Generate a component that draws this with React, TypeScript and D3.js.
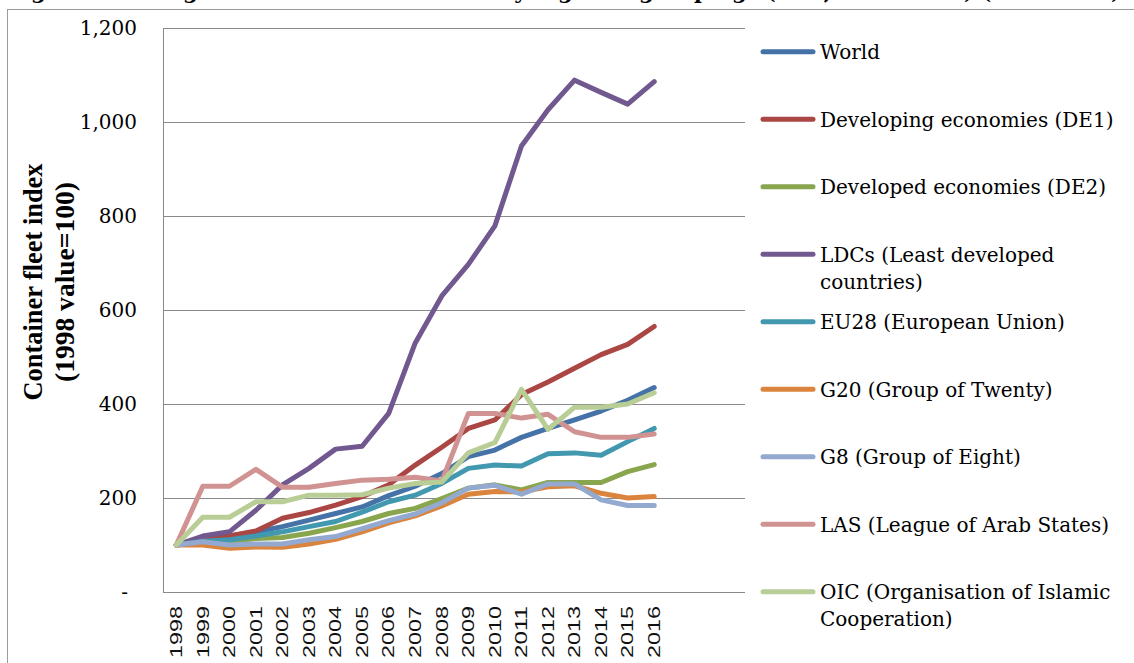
import React, { useEffect, useRef } from 'react';
import * as d3 from 'd3';

// values (index, 1998 = 100)
const years = ['1998', '1999', '2000', '2001', '2002', '2003', '2004', '2005', '2006', '2007',
  '2008', '2009', '2010', '2011', '2012', '2013', '2014', '2015', '2016'];
const world = [100, 111, 119, 128, 139, 153, 167, 181, 205, 225, 252, 288, 302, 329, 348, 366, 385, 408, 435];
const developing = [100, 112, 119, 130, 157, 169, 185, 203, 228, 270, 308, 348, 366, 420, 447, 476, 505, 527, 565];
const developed = [100, 107, 107, 114, 116, 125, 137, 150, 167, 178, 199, 221, 228, 217, 233, 233, 233, 256, 271];
const ldcs = [100, 119, 128, 174, 228, 263, 304, 310, 380, 530, 630, 697, 779, 949, 1026, 1089, 1063, 1038, 1086];
const eu28 = [100, 108, 111, 119, 128, 139, 150, 170, 192, 206, 231, 263, 270, 268, 294, 296, 291, 320, 348];
const g20 = [100, 100, 93, 96, 95, 102, 112, 128, 147, 162, 183, 208, 214, 213, 224, 226, 210, 200, 203];
const g8 = [100, 107, 100, 102, 102, 111, 118, 135, 152, 166, 190, 221, 227, 208, 230, 230, 196, 184, 184];
const las = [100, 225, 225, 261, 223, 223, 231, 238, 240, 244, 236, 380, 380, 370, 378, 341, 329, 329, 336];
const oic = [100, 159, 159, 192, 192, 206, 206, 207, 221, 231, 234, 296, 318, 431, 346, 393, 393, 400, 424];

const yTicks = [0, 200, 400, 600, 800, 1000, 1200];

const series = [
  { name: ['World'], values: world, color: '#4572A7' },
  { name: ['Developing economies (DE1)'], values: developing, color: '#AA4643' },
  { name: ['Developed economies (DE2)'], values: developed, color: '#89A54E' },
  { name: ['LDCs (Least developed', 'countries)'], values: ldcs, color: '#71588F' },
  { name: ['EU28 (European Union)'], values: eu28, color: '#4198AF' },
  { name: ['G20 (Group of Twenty)'], values: g20, color: '#DB843D' },
  { name: ['G8 (Group of Eight)'], values: g8, color: '#93A9CF' },
  { name: ['LAS (League of Arab States)'], values: las, color: '#D19392' },
  { name: ['OIC (Organisation of Islamic', 'Cooperation)'], values: oic, color: '#B9CD96' },
];

const serif = '"DejaVu Serif", serif';

const App = () => {
  const svg = useRef(null);
  const width = 1134;
  const height = 663;
  const plot = { left: 163, right: 745, top: 28, bottom: 592 };
  const catRight = 667.5;

  const renderChart = (root: any) => {
    root.selectAll('*').remove();

    const x = d3.scalePoint().domain(years).range([plot.left, catRight]).padding(0.5);
    const y = d3.scaleLinear().domain([0, 1200]).range([plot.bottom, plot.top]);

    // chart area frame
    root.append('rect')
      .attr('x', 7.5).attr('y', 9.5)
      .attr('width', width).attr('height', height)
      .attr('fill', 'none').attr('stroke', '#9a9a9a');

    // title (cut off at the top, like the source)
    root.append('text')
      .attr('x', 8).attr('y', -1)
      .attr('font-family', serif).attr('font-weight', 'bold').attr('font-size', 21)
      .text('Figure 8: Change in container fleet index by regional groupings (TEU, 1998-2016) (1998=100)');

    // gridlines
    root.append('g')
      .selectAll('line')
      .data(yTicks.filter(t => t > 0))
      .enter()
      .append('line')
      .attr('x1', plot.left).attr('x2', plot.right)
      .attr('y1', (d: number) => Math.round(y(d)) + 0.5)
      .attr('y2', (d: number) => Math.round(y(d)) + 0.5)
      .attr('stroke', '#8a8a8a');

    // axes lines
    root.append('line')
      .attr('x1', plot.left + 0.5).attr('x2', plot.left + 0.5)
      .attr('y1', plot.top).attr('y2', plot.bottom)
      .attr('stroke', '#8a8a8a');
    root.append('line')
      .attr('x1', plot.left).attr('x2', plot.right)
      .attr('y1', plot.bottom + 0.5).attr('y2', plot.bottom + 0.5)
      .attr('stroke', '#8a8a8a');

    // y tick labels
    root.append('g')
      .selectAll('text')
      .data(yTicks)
      .enter()
      .append('text')
      .attr('x', (d: number) => (d === 0 ? 128 : 137))
      .attr('y', (d: number) => y(d) + 7)
      .attr('text-anchor', 'end')
      .attr('font-family', serif).attr('font-size', 20).attr('fill', '#000')
      .text((d: number) => (d === 0 ? '-' : d3.format(',')(d)));

    // x tick labels
    root.append('g')
      .selectAll('text')
      .data(years)
      .enter()
      .append('text')
      .attr('transform', (d: string) => `translate(${x(d)}, 606) rotate(-90)`)
      .attr('dy', '0.36em')
      .attr('text-anchor', 'end')
      .attr('font-family', '"Liberation Sans", Arial, sans-serif').attr('font-size', 16)
      .attr('fill', '#111')
      .attr('textLength', 52).attr('lengthAdjust', 'spacingAndGlyphs')
      .text((d: string) => d);

    // y axis title
    const yTitle = root.append('g')
      .attr('transform', 'translate(0, 282) rotate(-90)')
      .attr('font-family', '"Liberation Serif", serif').attr('font-weight', 'bold').attr('font-size', 28)
      .attr('text-anchor', 'middle');
    yTitle.append('text').attr('x', 0).attr('y', 42)
      .attr('textLength', 237).attr('lengthAdjust', 'spacingAndGlyphs')
      .text('Container fleet index');
    yTitle.append('text').attr('x', 0).attr('y', 74)
      .attr('textLength', 200).attr('lengthAdjust', 'spacingAndGlyphs')
      .text('(1998 value=100)');

    // lines
    const line = d3.line<number>()
      .x((_d, i) => x(years[i]) as number)
      .y(d => y(d));

    root.append('g')
      .selectAll('path')
      .data(series)
      .enter()
      .append('path')
      .attr('d', (s: any) => line(s.values))
      .attr('fill', 'none')
      .attr('stroke', (s: any) => s.color)
      .attr('stroke-width', 5)
      .attr('stroke-linejoin', 'round')
      .attr('stroke-linecap', 'round');

    // legend
    const legend = root.append('g')
      .selectAll('g')
      .data(series)
      .enter()
      .append('g')
      .attr('transform', (_s: any, i: number) => `translate(0, ${51.7 + 67.5 * i})`);
    legend.append('line')
      .attr('x1', 763).attr('x2', 813)
      .attr('stroke', (s: any) => s.color)
      .attr('stroke-width', 5)
      .attr('stroke-linecap', 'round');
    legend.append('text')
      .attr('font-family', serif).attr('font-size', 20).attr('fill', '#000')
      .selectAll('tspan')
      .data((s: any) => s.name)
      .enter()
      .append('tspan')
      .attr('x', 820)
      .attr('y', (_t: string, i: number) => 7.5 + 27 * i)
      .text((t: string) => t);
  };

  useEffect(() => {
    renderChart(d3.select(svg.current));
  }, []);

  return (
    <svg
      ref={svg}
      width={width}
      height={height}
      style={{ position: 'absolute', left: 0, top: 0, background: '#fff' }}
    />
  );
};

export default App;
